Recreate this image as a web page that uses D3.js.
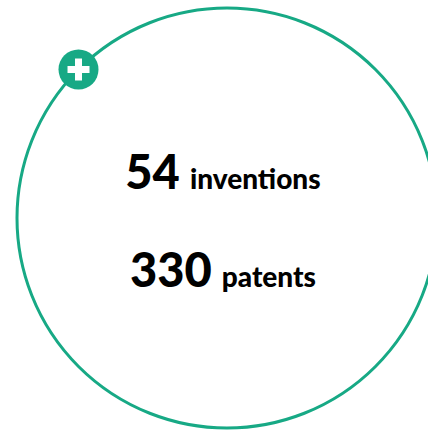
<!DOCTYPE html>
<html>
<head>
<meta charset="utf-8">
<script src="https://cdn.jsdelivr.net/npm/d3@7"></script>
<style>
  body { margin: 0; background: #fff; }
  text { font-family: Lato, "Open Sans", sans-serif; font-weight: 900; fill: #000; }
</style>
</head>
<body>
<svg id="chart" width="428" height="430"></svg>
<script>
const counts = [54, 330]
const labels = ["inventions", "patents"]
const green = "#17a985"

const svg = d3.select("#chart")
const cx = 227, cy = 218, r = 210

svg.append("circle")
    .attr("cx", cx).attr("cy", cy).attr("r", r)
    .attr("fill", "none")
    .attr("stroke", green)
    .attr("stroke-width", 3)

// plus badge sits on the ring at the upper left
const angle = -135 * Math.PI / 180
const bx = cx + r * Math.cos(angle), by = cy + r * Math.sin(angle)
const badge = svg.append("g").attr("transform", "translate(" + bx + "," + by + ")")
badge.append("circle").attr("r", 20).attr("fill", green)
badge.append("rect").attr("x", -11).attr("y", -3.5).attr("width", 22).attr("height", 7).attr("fill", "#fff")
badge.append("rect").attr("x", -3.5).attr("y", -11).attr("width", 7).attr("height", 22).attr("fill", "#fff")

const y = d3.scaleBand().domain(d3.range(counts.length)).range([125, 321])

const lines = svg.selectAll(".line")
    .data(counts)
    .enter()
    .append("text")
    .attr("class", "line")
    .attr("x", 223)
    .attr("y", function (d, i) { return y(i) + y.bandwidth() / 2 + 15 })
    .attr("text-anchor", "middle")

lines.append("tspan").attr("font-size", 47).text(function (d) { return d })
lines.append("tspan").attr("font-size", 28).attr("dx", 10).text(function (d, i) { return labels[i] })
</script>
</body>
</html>
